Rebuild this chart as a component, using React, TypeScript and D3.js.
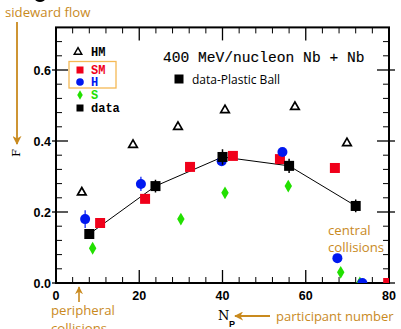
import React from "react";
import * as d3 from "d3";

const xMajorTicks = [0, 20, 40, 60, 80];
const yMajorTicks = [0, 0.2, 0.4, 0.6];
const yTickLabels = ["0.0", "0.2", "0.4", "0.6"];

const hmX = [6.2, 18.5, 29.3, 40.6, 57.4, 69.9];
const hmY = [0.255, 0.389, 0.44, 0.487, 0.496, 0.394];

const smX = [10.6, 21.4, 32.2, 42.5, 53.8, 67.0, 79.8];
const smY = [0.169, 0.237, 0.327, 0.358, 0.349, 0.324, 0.0];
const smErr = [0.008, 0.01, 0.01, 0.008, 0.012, 0.008, 0];

const hX = [7.0, 20.4, 39.8, 54.4, 67.6, 73.6];
const hY = [0.18, 0.279, 0.343, 0.369, 0.07, 0.0];
const hErr = [0.025, 0.02, 0.012, 0.008, 0, 0];

const sX = [8.8, 30.0, 40.6, 55.8, 68.4, 73.0];
const sY = [0.098, 0.18, 0.254, 0.273, 0.03, 0.0];
const sErr = [0.012, 0.01, 0.01, 0.012, 0.005, 0];

const dX = [8.0, 23.9, 40.0, 56.0, 72.0];
const dY = [0.138, 0.273, 0.355, 0.33, 0.217];
const dErr = [0.01, 0.018, 0.022, 0.02, 0.018];

const legendNames = ["HM", "SM", "H", "S", "data"];
const legendColors = ["#000", "#f0001a", "#0018f0", "#22e000", "#000"];

const ORANGE = "#c98a1e";
const W = 401;
const H = 329;

export default function App() {
  const x = d3.scaleLinear().domain([0, 80]).range([56, 389]);
  const y = d3.scaleLinear().domain([0, 0.72]).range([283, 27.4]);
  const [x0, x1] = x.range();
  const [y0, y1] = y.range();

  const xMinor = d3.range(0, 80.001, 4).filter((v) => v % 20 !== 0);
  const yMinor = d3.range(0, 0.72, 0.04).filter((v) => Math.abs(v / 0.2 - Math.round(v / 0.2)) > 1e-6);

  const tri = d3.symbol().type(d3.symbolTriangle).size(32)();
  const diamond = d3.symbol().type(d3.symbolDiamond).size(48)();
  const line = d3
    .line<number>()
    .x((_, i) => x(dX[i]))
    .y((_, i) => y(dY[i]));

  const serif = "'DejaVu Serif', 'Liberation Serif', serif";
  const mono = "'Liberation Mono', 'DejaVu Sans Mono', monospace";
  const sans = "'Liberation Sans', Arial, sans-serif";
  const hum = "'Open Sans', 'Noto Sans', sans-serif";

  const legendY = [52, 70, 82, 95, 108];

  return (
    <svg
      width={W}
      height={H}
      style={{ position: "absolute", left: 0, top: 0, background: "#fff" }}
      xmlns="http://www.w3.org/2000/svg"
    >
      <defs>
        <clipPath id="plotclip">
          <rect x={x0} y={y1} width={x1 - x0} height={y0 - y1} />
        </clipPath>
        <marker id="arrO" viewBox="0 0 10 10" refX="9" refY="5" markerWidth="5" markerHeight="5" orient="auto">
          <path d="M0,0 L10,5 L0,10 L3,5 Z" fill={ORANGE} />
        </marker>
      </defs>
      <rect width={W} height={H} fill="#fff" />

      {/* cropped fragments at the top */}
      <ellipse cx={40} cy={-1} rx={5} ry={3} fill="#000" />
      <text x={285} y={-3} fontSize={18} fill="#9b1fb0" fontFamily={serif}>(</text>
      <text x={323} y={-3} fontSize={18} fill="#9b1fb0" fontFamily={serif}>)</text>

      {/* frame */}
      <rect x={x0} y={y1} width={x1 - x0} height={y0 - y1} fill="none" stroke="#000" strokeWidth={2} />

      {/* x ticks */}
      {xMajorTicks.map((v) => (
        <g key={"xm" + v}>
          <line x1={x(v)} x2={x(v)} y1={y0} y2={y0 - 13} stroke="#000" strokeWidth={1.3} />
          <line x1={x(v)} x2={x(v)} y1={y1} y2={y1 + 13} stroke="#000" strokeWidth={1.3} />
          <text x={x(v)} y={300} textAnchor="middle" fontFamily={sans} fontWeight="bold" fontSize={12.5}>
            {v}
          </text>
        </g>
      ))}
      {xMinor.map((v) => (
        <g key={"xn" + v}>
          <line x1={x(v)} x2={x(v)} y1={y0} y2={y0 - 6} stroke="#000" strokeWidth={1} />
          <line x1={x(v)} x2={x(v)} y1={y1} y2={y1 + 6} stroke="#000" strokeWidth={1} />
        </g>
      ))}
      {/* y ticks */}
      {yMajorTicks.map((v, i) => (
        <g key={"ym" + v}>
          <line x1={x0 - 4} x2={x0 + 12} y1={y(v)} y2={y(v)} stroke="#000" strokeWidth={1.3} />
          <line x1={x1 + 6} x2={x1 - 12} y1={y(v)} y2={y(v)} stroke="#000" strokeWidth={1.3} />
          <text x={51} y={y(v) + 4.5} textAnchor="end" fontFamily={sans} fontWeight="bold" fontSize={12.5}>
            {yTickLabels[i]}
          </text>
        </g>
      ))}
      {yMinor.map((v) => (
        <g key={"yn" + v}>
          <line x1={x0} x2={x0 + 6} y1={y(v)} y2={y(v)} stroke="#000" strokeWidth={1} />
          <line x1={x1} x2={x1 - 6} y1={y(v)} y2={y(v)} stroke="#000" strokeWidth={1} />
        </g>
      ))}

      {/* data marks */}
      <g clipPath="url(#plotclip)">
        <path d={line(dX) || ""} fill="none" stroke="#000" strokeWidth={1} />
        {hmX.map((v, i) => (
          <path
            key={"hm" + i}
            d={tri}
            transform={`translate(${x(v)},${y(hmY[i])})`}
            fill="none"
            stroke="#000"
            strokeWidth={1.7}
          />
        ))}
        {sX.map((v, i) => (
          <g key={"s" + i}>
            <line x1={x(v)} x2={x(v)} y1={y(sY[i] - sErr[i])} y2={y(sY[i] + sErr[i])} stroke="#22e000" strokeWidth={1.2} />
            <path d={diamond} transform={`translate(${x(v)},${y(sY[i])})`} fill="#22e000" />
          </g>
        ))}
        {smX.map((v, i) => (
          <g key={"sm" + i}>
            <line x1={x(v)} x2={x(v)} y1={y(smY[i] - smErr[i])} y2={y(smY[i] + smErr[i])} stroke="#f0001a" strokeWidth={1.2} />
            <rect x={x(v) - 5} y={y(smY[i]) - 5} width={10} height={10} fill="#f0001a" />
          </g>
        ))}
        {hX.map((v, i) => (
          <g key={"h" + i}>
            <line x1={x(v)} x2={x(v)} y1={y(hY[i] - hErr[i])} y2={y(hY[i] + hErr[i])} stroke="#0018f0" strokeWidth={1.2} />
            <circle cx={x(v)} cy={y(hY[i])} r={5} fill="#0018f0" />
          </g>
        ))}
        {dX.map((v, i) => (
          <g key={"d" + i}>
            <line x1={x(v)} x2={x(v)} y1={y(dY[i] - dErr[i])} y2={y(dY[i] + dErr[i])} stroke="#000" strokeWidth={1.5} />
            <rect x={x(v) - 5} y={y(dY[i]) - 5} width={10} height={10} fill="#000" />
          </g>
        ))}
      </g>

      {/* legend */}
      <rect x={69} y={61.5} width={47} height={26.5} fill="none" stroke="#f5b955" strokeWidth={1.3} />
      {legendNames.map((n, i) => {
        const cy = legendY[i];
        const cx = 80;
        let mark: React.ReactNode = null;
        if (i === 0)
          mark = <path d={d3.symbol().type(d3.symbolTriangle).size(24)() || ""} transform={`translate(${78},${cy})`} fill="none" stroke="#000" strokeWidth={1.5} />;
        else if (i === 1) mark = <rect x={cx - 3.5} y={cy - 3.5} width={7} height={7} fill={legendColors[i]} />;
        else if (i === 2) mark = <circle cx={cx} cy={cy} r={3.8} fill={legendColors[i]} />;
        else if (i === 3)
          mark = <path d={d3.symbol().type(d3.symbolDiamond).size(26)() || ""} transform={`translate(${cx},${cy})`} fill={legendColors[i]} />;
        else mark = <rect x={cx - 3.5} y={cy - 3.5} width={7} height={7} fill="#000" />;
        return (
          <g key={n}>
            {mark}
            <text x={91} y={cy + 4} fontFamily={mono} fontWeight="bold" fontSize={12} fill={legendColors[i]}>
              {n}
            </text>
          </g>
        );
      })}

      {/* title texts */}
      <text x={163} y={62} fontFamily={mono} fontSize={14.6} fill="#000" stroke="#000" strokeWidth={0.15}>
        400 MeV/nucleon Nb + Nb
      </text>
      <rect x={174.5} y={74.5} width={9} height={9} fill="#000" />
      <text x={192} y={84} fontFamily={hum} fontSize={12} fill="#000">
        data-Plastic Ball
      </text>

      {/* axis labels */}
      <text transform="translate(20,153) rotate(-90)" textAnchor="middle" fontFamily={serif} fontSize={11} fill="#000">
        F
      </text>
      <text x={218} y={320} fontFamily={serif} fontSize={13} fill="#000">N</text>
      <text x={229} y={327} fontFamily={sans} fontWeight="bold" fontSize={9} fill="#000">P</text>

      {/* orange annotations */}
      <text x={5} y={17} fontFamily={hum} fontSize={13.2} fill={ORANGE}>sideward flow</text>
      <line x1={17} x2={17} y1={22} y2={144} stroke={ORANGE} strokeWidth={1.8} markerEnd="url(#arrO)" />

      <text x={51} y={315} fontFamily={hum} fontSize={13.2} fill={ORANGE}>peripheral</text>
      <text x={51} y={333} fontFamily={hum} fontSize={13.2} fill={ORANGE}>collisions</text>
      <line x1={79} x2={79} y1={302} y2={287} stroke={ORANGE} strokeWidth={1.6} markerEnd="url(#arrO)" />

      <text x={328} y={235} fontFamily={hum} fontSize={13.2} fill={ORANGE}>central</text>
      <text x={328} y={252} fontFamily={hum} fontSize={13.2} fill={ORANGE}>collisions</text>

      <line x1={270} x2={235} y1={316} y2={316} stroke={ORANGE} strokeWidth={1.8} markerEnd="url(#arrO)" />
      <text x={276} y={321} fontFamily={hum} fontSize={13} fill={ORANGE}>participant number</text>
    </svg>
  );
}
